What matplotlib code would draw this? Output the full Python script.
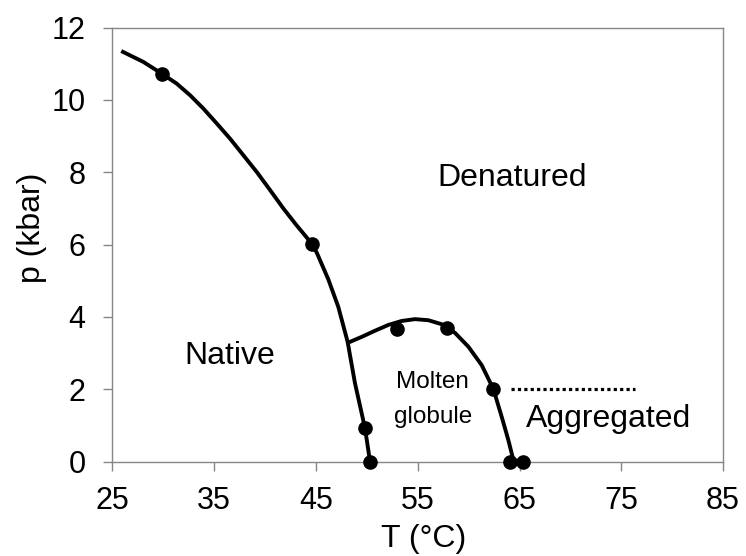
import numpy as np
import matplotlib
matplotlib.use("Agg")
import matplotlib.pyplot as plt

# phase boundary
native_T = [25.86, 28.03, 29.93, 31.31, 32.62, 33.93, 35.24, 36.55, 37.86, 39.17, 40.48, 41.79,
            43.10, 44.58, 45.07, 46.21, 47.19, 48.11, 48.83, 49.82, 50.31]
native_p = [11.35, 11.05, 10.71, 10.45, 10.13, 9.76, 9.35, 8.93, 8.47, 8.01, 7.51, 7.00,
            6.53, 6.03, 5.78, 5.04, 4.28, 3.31, 2.17, 0.92, 0.0]

mg_T = [48.24, 49.49, 50.80, 52.11, 53.42, 54.73, 56.04, 57.35, 58.66, 59.97, 61.28, 62.43,
        63.25, 63.90, 64.39, 64.42]
mg_p = [3.30, 3.45, 3.62, 3.78, 3.89, 3.94, 3.91, 3.80, 3.56, 3.18, 2.67, 2.01,
        1.24, 0.60, 0.05, 0.0]

# measured points
pts_T = [29.91, 44.58, 49.85, 50.35, 52.93, 57.85, 62.43, 64.07, 65.30]
pts_p = [10.71, 6.02, 0.93, 0.00, 3.67, 3.69, 2.00, 0.00, 0.00]

agg_T = [64.18, 76.35]
agg_p = [2.0, 2.0]

xticks = [25, 35, 45, 55, 65, 75, 85]
yticks = [0, 2, 4, 6, 8, 10, 12]

plt.rcParams["font.family"] = ["Liberation Sans", "DejaVu Sans"]
GREY = "#868686"

fig = plt.figure(figsize=(7.46, 5.56), dpi=100)
ax = fig.add_axes([0.1508, 0.1696, 0.8184, 0.7809])

ax.plot(native_T, native_p, color="black", lw=2.8, solid_joinstyle="round", solid_capstyle="butt")
ax.plot(mg_T, mg_p, color="black", lw=2.8, solid_joinstyle="round", solid_capstyle="butt")
ax.plot(agg_T, agg_p, color="black", lw=2.3, linestyle=(0, (1.0, 1.0)))
ax.plot(pts_T, pts_p, "o", color="black", ms=9.5, clip_on=False, zorder=5)

ax.text(64.31, 7.62, "Denatured", fontsize=23, ha="center", va="baseline")
ax.text(32.06, 2.70, "Native", fontsize=23, ha="left", va="baseline")
ax.text(56.45, 2.03, "Molten", fontsize=17.5, ha="center", va="baseline")
ax.text(56.55, 1.06, "globule", fontsize=17.5, ha="center", va="baseline")
ax.text(65.64, 0.97, "Aggregated", fontsize=23, ha="left", va="baseline")

ax.set_xlim(25, 85)
ax.set_ylim(0, 12)
ax.set_xticks(xticks)
ax.set_yticks(yticks)
ax.tick_params(axis="both", direction="out", length=6.5, width=1, color=GREY, labelsize=22)
ax.tick_params(axis="x", pad=11)
ax.tick_params(axis="y", pad=13)
for s in ax.spines.values():
    s.set_color(GREY)
    s.set_linewidth(1)

ax.set_xlabel("T (°C)", fontsize=23)
ax.set_ylabel("p (kbar)", fontsize=23)
ax.xaxis.set_label_coords(0.51, -0.144)
ax.yaxis.set_label_coords(-0.107, 0.538)

fig.savefig("out.png", dpi=100)
